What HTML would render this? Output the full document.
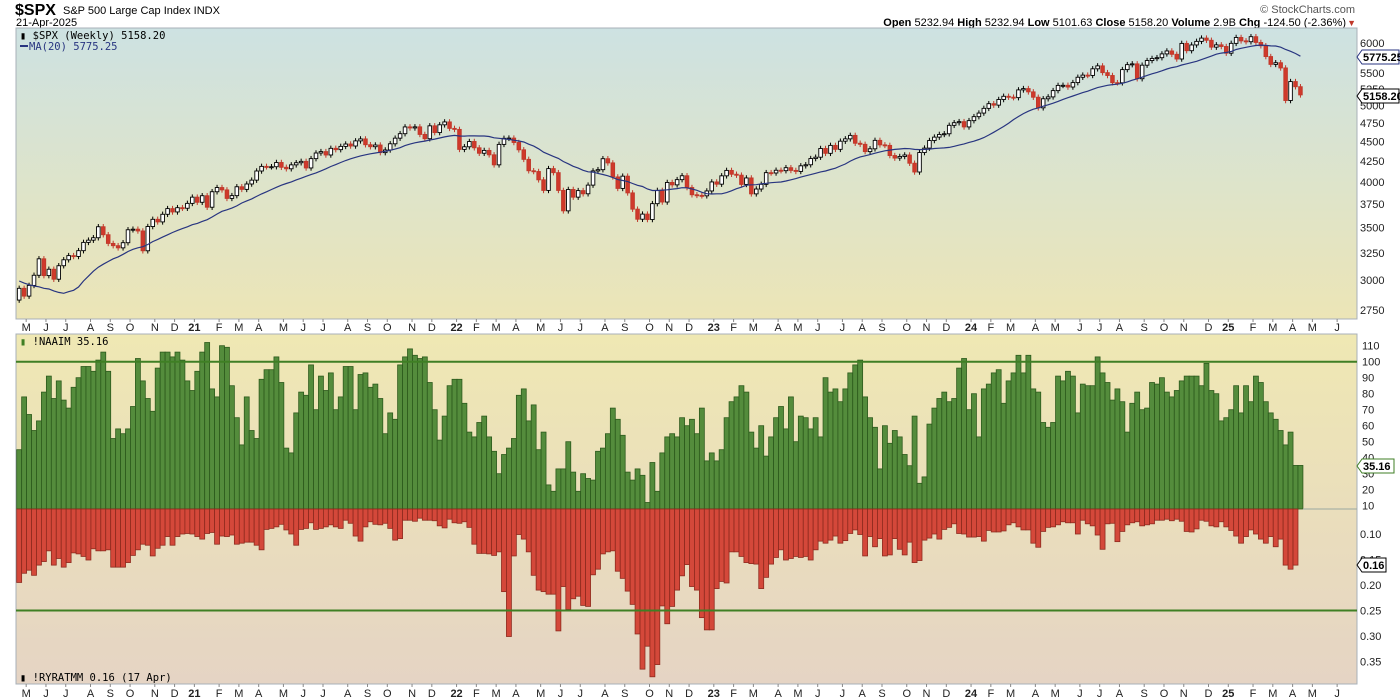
<!DOCTYPE html>
<html><head><meta charset="utf-8"><style>
body{margin:0;background:#fff;width:1400px;height:700px;overflow:hidden}
svg{display:block;font-family:"Liberation Sans",sans-serif}
</style></head><body>
<svg id="chart" width="1400" height="700" viewBox="0 0 1400 700" xmlns="http://www.w3.org/2000/svg">
<defs>
<linearGradient id="gTop" x1="0" y1="0" x2="0" y2="1"><stop offset="0" stop-color="#cde2e2"/><stop offset="1" stop-color="#ece5b6"/></linearGradient>
<linearGradient id="gBot" x1="0" y1="0" x2="0" y2="1"><stop offset="0" stop-color="#efe8b3"/><stop offset="1" stop-color="#e5d4c4"/></linearGradient>
</defs>
<g>
<text x="15" y="15" font-size="16" font-weight="bold">$SPX</text>
<text x="63" y="14" font-size="11">S&amp;P 500 Large Cap Index  INDX</text>
<text x="16" y="26" font-size="11">21-Apr-2025</text>
<text x="1355" y="13" font-size="11" fill="#555" text-anchor="end">© StockCharts.com</text>
<text x="1346" y="26" font-size="11" text-anchor="end"><tspan font-weight="bold">Open</tspan> 5232.94  <tspan font-weight="bold">High</tspan> 5232.94  <tspan font-weight="bold">Low</tspan> 5101.63  <tspan font-weight="bold">Close</tspan> 5158.20  <tspan font-weight="bold">Volume</tspan> 2.9B  <tspan font-weight="bold">Chg</tspan> -124.50 (-2.36%)</text>
<text x="1356" y="26" font-size="9" fill="#c0392b" text-anchor="end">▼</text>
</g>
<rect x="16" y="28" width="1341" height="291" fill="url(#gTop)" stroke="#a8b0b8"/>
<rect x="16" y="334" width="1341" height="350" fill="url(#gBot)" stroke="#a8b0b8"/>
<g id="priceG"></g><g id="indG"></g><g id="axisG"></g>
</svg>
<script>
const closes=[2930,2864,2955,3044,3194,3041,3098,3009,3130,3185,3224,3216,3271,3351,3373,3397,3508,3427,3341,3319,3298,3348,3477,3483,3465,3270,3510,3585,3558,3638,3699,3663,3709,3703,3756,
3825,3768,3841,3714,3886,3934,3907,3811,3842,3943,3913,3975,4020,4129,4185,4180,4181,4233,4174,4156,4204,4230,4247,4166,4281,4352,4370,4327,4412,4395,4437,4468,4442,4509,4535,4459,4433,4455,4357,4391,4471,4545,4605,4697,4683,4698,4595,4538,4712,4620,4726,4766,
4677,4663,4398,4432,4501,4419,4349,4385,4329,4204,4463,4543,4546,4488,4393,4272,4132,4123,4024,3901,4158,4109,3901,3675,3912,3825,3899,3863,3962,4130,4145,4280,4228,4058,3924,4067,3873,3693,3586,3640,3583,3753,3901,3771,3993,3965,4026,4072,3934,3852,3845,3840,
3895,3999,3973,4071,4136,4090,4079,3970,4046,3862,3917,3971,4109,4105,4138,4133,4169,4136,4124,4192,4205,4282,4299,4410,4348,4450,4399,4505,4536,4582,4478,4464,4370,4406,4516,4457,4450,4320,4288,4308,4327,4224,4117,4358,4415,4514,4559,4595,4604,4719,4755,4770,
4697,4784,4840,4891,4959,5027,5006,5089,5137,5124,5117,5234,5254,5204,5123,4967,5100,5128,5223,5303,5305,5278,5347,5431,5465,5460,5567,5615,5505,5459,5346,5344,5554,5635,5648,5408,5626,5703,5738,5751,5815,5865,5808,5729,5996,5870,5969,6032,6090,6051,5931,5971,
5942,5827,5997,6101,6041,6026,6115,6013,5955,5770,5639,5667,5581,5074,5363,5283,5158];
const priorCloses=[3240,3235,3265,3330,3295,3226,3328,3380,3338,2954,2972,2711,2305,2541,2489,2790,2875,2837,2831];
const naaim=[45,78,67,57,63,81,91,77,88,76,71,84,90,97,97,94,101,106,94,52,58,55,58,72,102,88,77,69,96,106,106,103,106,101,88,82,94,106,112,83,78,110,109,85,65,48,78,57,52,89,95,95,103,87,46,43,68,81,79,98,70,91,82,93,70,78,97,97,70,92,93,84,86,77,55,68,64,98,103,108,104,102,103,87,70,51,66,85,89,
89,74,56,53,62,66,53,44,30,42,46,52,79,83,63,73,45,56,23,19,33,33,50,31,19,30,27,26,44,46,55,71,64,54,31,26,33,29,12,37,19,43,53,55,53,65,60,64,55,71,38,43,38,45,65,75,78,85,81,56,46,60,41,53,65,72,58,78,50,66,65,58,65,53,90,81,83,75,83,93,98,101,78,65,59,33,60,49,57,53,
42,35,66,24,28,61,71,77,81,75,77,96,102,70,80,53,83,86,93,95,74,88,93,104,93,104,83,81,62,59,62,91,88,94,91,68,86,85,85,103,93,87,76,83,75,56,74,81,70,71,87,86,90,81,78,82,88,91,91,91,85,99,82,80,63,65,70,85,68,85,75,91,87,75,68,64,57,48,56,35.16,35.16];
const ryratmm=[.195,.177,.171,.181,.161,.154,.133,.161,.148,.165,.156,.137,.139,.144,.151,.129,.133,.133,.131,.165,.165,.165,.156,.142,.131,.120,.122,.143,.128,.122,.105,.122,.105,.100,.099,.100,.105,.110,.099,.097,.120,.104,.105,.102,.120,.118,.116,.116,.122,.131,.091,.089,.086,.081,.092,.100,.122,.091,.089,.078,.091,.089,.086,.082,.086,.089,.073,.079,.104,.114,.086,.076,.081,.082,.079,.089,.112,.109,.073,.073,.075,.069,.073,.073,.074,.084,.088,.071,.078,
.079,.076,.087,.120,.138,.138,.139,.142,.135,.213,.301,.143,.101,.110,.135,.181,.210,.213,.218,.218,.290,.203,.248,.227,.222,.240,.242,.180,.169,.139,.135,.133,.173,.187,.212,.238,.296,.365,.320,.380,.356,.241,.276,.242,.210,.182,.160,.203,.210,.264,.288,.288,.207,.193,.196,.135,.135,.144,.156,.158,.159,.207,.185,.159,.146,.131,.151,.148,.144,.146,.144,.151,.131,.114,.118,.112,.104,.118,.113,.099,.092,.101,.143,.105,.125,.109,.143,.141,.109,.130,
.141,.116,.156,.152,.112,.108,.100,.110,.091,.087,.080,.099,.100,.106,.106,.105,.114,.093,.096,.096,.094,.082,.078,.086,.092,.092,.118,.126,.095,.087,.086,.082,.076,.078,.078,.100,.073,.080,.084,.102,.130,.080,.079,.115,.095,.082,.078,.076,.084,.082,.080,.073,.073,.071,.074,.071,.075,.095,.096,.090,.073,.075,.084,.086,.076,.086,.093,.104,.118,.105,.092,.100,.110,.118,.105,.125,.110,.161,.169,.161];
const priceTicks=[6000,5500,5250,5000,4750,4500,4250,4000,3750,3500,3250,3000,2750];
const naaimTicks=[110,100,90,80,70,60,50,40,30,20,10];
const ryTicks=[0.10,0.15,0.20,0.25,0.30,0.35];
const monthNames=["J","F","M","A","M","J","J","A","S","O","N","D"];

const NS="http://www.w3.org/2000/svg";
const X0=16.7,STEP=4.947;
const xc=i=>X0+STEP*(i+0.5);
const py=p=>310-342*Math.log(p/2750);
const ny=v=>521.7-1.6*v;
const ry=v=>483+510*v;
function mk(tag,attrs,parent){const e=document.createElementNS(NS,tag);for(const k in attrs)e.setAttribute(k,attrs[k]);parent.appendChild(e);return e;}
const pg=document.getElementById('priceG'),ig=document.getElementById('indG'),ag=document.getElementById('axisG');

closes.forEach((c,i)=>{
  const o=i===0?priorCloses[priorCloses.length-1]:closes[i-1];
  const hi=Math.max(o,c)*1.008,lo=Math.min(o,c)*0.992;
  const x=xc(i),down=c<o;
  const w=mk('line',{x1:x,x2:x,y1:py(hi),y2:py(lo),stroke:down?'#c0392b':'#000','stroke-width':1},pg);
  
  
  const top=py(Math.max(o,c)),bot=py(Math.min(o,c));
  const b=mk('rect',{x:x-1.8,y:top,width:3.6,height:Math.max(1,bot-top),fill:down?'#d0392b':'#fff',stroke:down?'#c0392b':'#000','stroke-width':0.9},pg);
  
  
});
const all=priorCloses.concat(closes);const off=priorCloses.length;
let d='';
closes.forEach((c,i)=>{let s=0;for(let k=0;k<20;k++)s+=all[off+i-k];const m=s/20;d+=(i?'L':'M')+xc(i).toFixed(1)+' '+py(m).toFixed(1);});
const ma=mk('path',{d:d,fill:'none',stroke:'#283580','stroke-width':1.2},pg);



naaim.forEach((v,i)=>{
  const y=Math.max(335,ny(v));
  const r=mk('rect',{x:X0+STEP*i,y:y,width:STEP,height:509-y,fill:'#548c3c',stroke:'#2c5a1c','stroke-width':0.8},ig);
  
  
});
ryratmm.forEach((v,i)=>{
  const y=ry(v);
  const r=mk('rect',{x:X0+STEP*i,y:509,width:STEP,height:Math.max(0,y-509),fill:'#d4483a',stroke:'#8e2a1e','stroke-width':0.8},ig);
  
  
});
const zl=mk('line',{x1:X0+STEP*naaim.length,x2:1357,y1:509,y2:509,stroke:'#9aa8a0','stroke-width':1},ig);


const l1=mk('line',{x1:16,x2:1357,y1:ny(100),y2:ny(100),stroke:'#3f7f24','stroke-width':2},ig);


const l2=mk('line',{x1:16,x2:1357,y1:ry(0.25),y2:ry(0.25),stroke:'#3f7f24','stroke-width':2},ig);



priceTicks.forEach(p=>{
  const t=mk('text',{x:1360,y:py(p)+4,'font-size':11,fill:'#222'},ag);t.textContent=p;
  
  
});
naaimTicks.forEach(v=>{
  const t=mk('text',{x:1362,y:ny(v)+4,'font-size':11,fill:'#222'},ag);t.textContent=v;
  
  
});
ryTicks.forEach(v=>{
  const t=mk('text',{x:1360,y:ry(v)+4,'font-size':11,fill:'#222'},ag);t.textContent=v.toFixed(2);
  
  
});
function tag(y,txt,stroke,name,w){
  const g=mk('g',{},ag);
  
  
  mk('path',{d:`M1357 ${y} l5 -7 h${w} v14 h-${w} z`,fill:'#fff',stroke:stroke,'stroke-width':1},g);
  const t=mk('text',{x:1363,y:y+4,'font-size':11,'font-weight':'bold',fill:'#000'},g);t.textContent=txt;
}
tag(57,'5775.25','#283580','ma-value-tag',37);
tag(96,'5158.20','#000','price-value-tag',37);
tag(466,'35.16','#3f7f24','naaim-value-tag',32);
tag(565,'0.16','#000','ryratmm-value-tag',24);

const start=new Date(2020,4,8);let prevM=-1;
for(let i=0;i<272;i++){
  const dt=new Date(start.getTime()+i*7*864e5);const m=dt.getMonth();
  if(m!==prevM){
    const x=xc(i)+7;if(x>1340)break;
    const lab=m===0?String(dt.getFullYear()).slice(2):monthNames[m];
    [327,693].forEach(y=>{
      const t=mk('text',{x:x,y:y+4,'font-size':11,'text-anchor':'middle','font-weight':m===0?'bold':'normal',fill:'#222'},ag);t.textContent=lab;
      
      
    });
    [319,684].forEach(y=>{const k=mk('line',{x1:x,x2:x,y1:y,y2:y+3,stroke:'#888'},ag);
      
      });
  }
  prevM=m;
}
</script>
<div style="position:absolute;left:0;top:0">
<svg width="1400" height="700" style="position:absolute;left:0;top:0;pointer-events:none">
<g font-family="DejaVu Sans Mono, monospace" font-size="10.5">
<text x="20" y="39" fill="#000">▮ $SPX (Weekly) 5158.20</text>
<line x1="20" y1="46" x2="28" y2="46" stroke="#283580" stroke-width="2"/>
<text x="29" y="50" fill="#283580">MA(20) 5775.25</text>
<text x="20" y="345" fill="#000"><tspan fill="#3f7f24">▮</tspan> !NAAIM 35.16</text>
<text x="20" y="681" fill="#000">▮ !RYRATMM 0.16 (17 Apr)</text>
</g>
</svg>
</div>
</body></html>
